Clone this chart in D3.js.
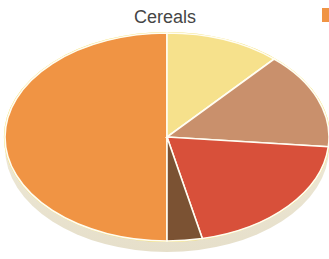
<!DOCTYPE html>
<html>
<head>
<meta charset="utf-8">
<script src="https://cdn.jsdelivr.net/npm/d3@7"></script>
<style>
  body { margin: 0; background: #fff; }
  svg { display: block; }
</style>
</head>
<body>
<div id="chart"></div>
<script>
// data (percent of total)
var categories = ["Orange", "Yellow", "Tan", "Red", "Dark brown"];
var values = [50, 11.5, 15, 20, 3.5];
var legendItems = ["Orange"];

var width = 329, height = 259;
var cx = 167, cy = 137, rx = 162, ry = 104, depth = 11;

var color = d3.scaleOrdinal()
  .domain(categories)
  .range(["#f09444", "#f6e18c", "#c9906c", "#d8503a", "#7b5233"]);

var svg = d3.select("#chart").append("svg")
  .attr("width", width)
  .attr("height", height);

var defs = svg.append("defs");
var grad = defs.append("linearGradient").attr("id", "side").attr("x1", 0).attr("y1", 0).attr("x2", 0).attr("y2", 1);
grad.append("stop").attr("offset", "0%").attr("stop-color", "#f4f0e0");
grad.append("stop").attr("offset", "100%").attr("stop-color", "#e6dfca");

// title
svg.append("text")
  .attr("x", 165)
  .attr("y", 23)
  .attr("text-anchor", "middle")
  .style("font-family", "Liberation Sans, Arial, sans-serif")
  .style("font-size", "18px")
  .attr("fill", "#454545")
  .text("Cereals");

// legend swatch (cut off at right edge)
svg.selectAll(".legend")
  .data(legendItems)
  .enter()
  .append("rect")
    .attr("x", 322)
    .attr("y", 8)
    .attr("width", 14)
    .attr("height", 14)
    .attr("fill", function(d) { return color(d); });

// pie side (depth)
svg.append("ellipse")
  .attr("cx", cx)
  .attr("cy", cy + depth)
  .attr("rx", rx)
  .attr("ry", ry)
  .attr("fill", "url(#side)");

var data = categories.map(function(c, i) { return { name: c, value: values[i] }; });

// slices clockwise from 12 o'clock: orange takes the left half, so rotate start
var pie = d3.pie()
  .sort(null)
  .value(function(d) { return d.value; })
  .startAngle(Math.PI)
  .endAngle(3 * Math.PI);

var arc = d3.arc().innerRadius(0).outerRadius(ry);

var g = svg.append("g")
  .attr("transform", "translate(" + cx + "," + cy + ") scale(" + (rx / ry) + ",1)");

// thin yellow rim round the top face
g.append("circle")
  .attr("r", ry + 0.3)
  .attr("fill", "none")
  .attr("stroke", "#f3df72")
  .attr("stroke-width", 1.4)
  .attr("vector-effect", "non-scaling-stroke");

g.selectAll("path")
  .data(pie(data))
  .enter()
  .append("path")
    .attr("d", arc)
    .attr("fill", function(d) { return color(d.data.name); })
    .attr("stroke", "#fffdf2")
    .attr("stroke-width", 1.6)
    .attr("vector-effect", "non-scaling-stroke");
</script>
</body>
</html>
